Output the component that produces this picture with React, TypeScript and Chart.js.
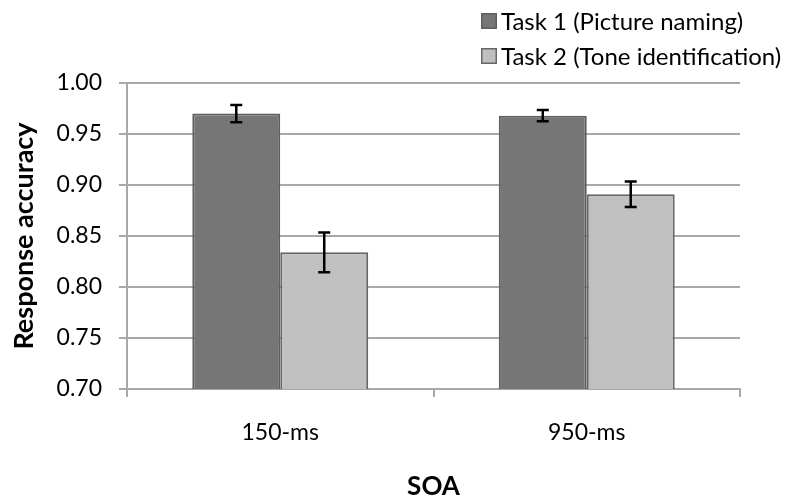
import React, { useEffect, useRef } from "react";
import { Chart, registerables } from "chart.js";

Chart.register(...registerables);

const categories = ["150-ms", "950-ms"];
const seriesLabels = ["Task 1 (Picture naming)", "Task 2 (Tone identification)"];
const task1Values = [0.97, 0.968];
const task2Values = [0.834, 0.891];
const task1Errors = [0.0085, 0.0055];
const task2Errors = [0.0195, 0.0125];
const yTicks = [0.7, 0.75, 0.8, 0.85, 0.9, 0.95, 1.0];

const FONT = "Lato";
const fillColors = ["#767676", "#c0c0c0"];
const borderColors = ["#5e5e5e", "#666666"];
const gridColor = "#a8a8a8";
const errorSets = [task1Errors, task2Errors];

const errorBarPlugin = {
  id: "errorBars",
  afterDatasetsDraw(chart: any) {
    const ctx = chart.ctx;
    const yScale = chart.scales.y;
    ctx.save();
    ctx.strokeStyle = "#000000";
    ctx.lineWidth = 2.5;
    chart.data.datasets.forEach((ds: any, i: number) => {
      const meta = chart.getDatasetMeta(i);
      meta.data.forEach((bar: any, j: number) => {
        const v = ds.data[j];
        const e = errorSets[i][j];
        const x = bar.x;
        const yHi = yScale.getPixelForValue(v + e);
        const yLo = yScale.getPixelForValue(v - e);
        const cap = 6;
        ctx.beginPath();
        ctx.moveTo(x, yHi);
        ctx.lineTo(x, yLo);
        ctx.moveTo(x - cap, yHi);
        ctx.lineTo(x + cap, yHi);
        ctx.moveTo(x - cap, yLo);
        ctx.lineTo(x + cap, yLo);
        ctx.stroke();
      });
    });
    ctx.restore();
  },
};

const legendPlugin = {
  id: "customLegend",
  afterDraw(chart: any) {
    const ctx = chart.ctx;
    ctx.save();
    const x0 = 481;
    const rows = [21, 56];
    chart.data.datasets.forEach((ds: any, i: number) => {
      const cy = rows[i];
      ctx.fillStyle = fillColors[i];
      ctx.fillRect(x0, cy - 8, 16, 16);
      ctx.strokeStyle = borderColors[i];
      ctx.lineWidth = 1.5;
      ctx.strokeRect(x0 + 0.75, cy - 7.25, 14.5, 14.5);
      ctx.fillStyle = "#000000";
      ctx.font = `24px ${FONT}`;
      ctx.textBaseline = "middle";
      ctx.textAlign = "left";
      ctx.fillText(ds.label, x0 + 20, cy + 1);
    });
    ctx.restore();
  },
};

export default function App() {
  const canvasRef = useRef<HTMLCanvasElement | null>(null);

  useEffect(() => {
    if (!canvasRef.current) return;
    const chart = new Chart(canvasRef.current, {
      type: "bar",
      data: {
        labels: categories,
        datasets: [
          {
            label: seriesLabels[0],
            data: task1Values,
            backgroundColor: fillColors[0],
            borderColor: borderColors[0],
            borderWidth: 2,
            categoryPercentage: 0.574,
            barPercentage: 1,
          },
          {
            label: seriesLabels[1],
            data: task2Values,
            backgroundColor: fillColors[1],
            borderColor: borderColors[1],
            borderWidth: 2,
            categoryPercentage: 0.574,
            barPercentage: 1,
          },
        ],
      },
      options: {
        animation: false,
        responsive: false,
        maintainAspectRatio: false,
        devicePixelRatio: 1,
        layout: { padding: { top: 83, right: 53, left: 0, bottom: 0 } },
        plugins: {
          legend: { display: false },
          tooltip: { enabled: false },
        },
        scales: {
          x: {
            grid: {
              display: true,
              drawOnChartArea: false,
              drawTicks: true,
              tickLength: 8,
              color: gridColor,
              lineWidth: 2,
              offset: true,
            },
            border: { display: true, color: gridColor, width: 2 },
            ticks: {
              color: "#000000",
              font: { family: FONT, size: 23 },
              padding: 22,
            },
            title: {
              display: true,
              text: "SOA",
              color: "#000000",
              font: { family: FONT, size: 26, weight: "bold" },
              padding: { top: 0, bottom: 2 },
            },
            afterFit(scale: any) {
              scale.height = 504 - 389;
            },
          },
          y: {
            min: 0.7,
            max: 1.0,
            afterBuildTicks(scale: any) {
              scale.ticks = yTicks.map((v) => ({ value: v }));
            },
            grid: {
              color: gridColor,
              lineWidth: 2,
              tickLength: 8,
              drawTicks: true,
            },
            border: { display: true, color: gridColor, width: 2 },
            ticks: {
              color: "#000000",
              font: { family: FONT, size: 23 },
              padding: 17,
              callback: (v: any) => Number(v).toFixed(2),
            },
            title: {
              display: true,
              text: "Response accuracy",
              color: "#000000",
              font: { family: FONT, size: 27, weight: "bold" },
              padding: { top: 8, bottom: 0 },
            },
            afterFit(scale: any) {
              scale.width = 127;
            },
          },
        },
      },
      plugins: [errorBarPlugin, legendPlugin],
    });
    return () => chart.destroy();
  }, []);

  return (
    <div style={{ position: "absolute", left: 0, top: 0, width: 793, height: 504, background: "#ffffff" }}>
      <canvas ref={canvasRef} width={793} height={504} />
    </div>
  );
}
